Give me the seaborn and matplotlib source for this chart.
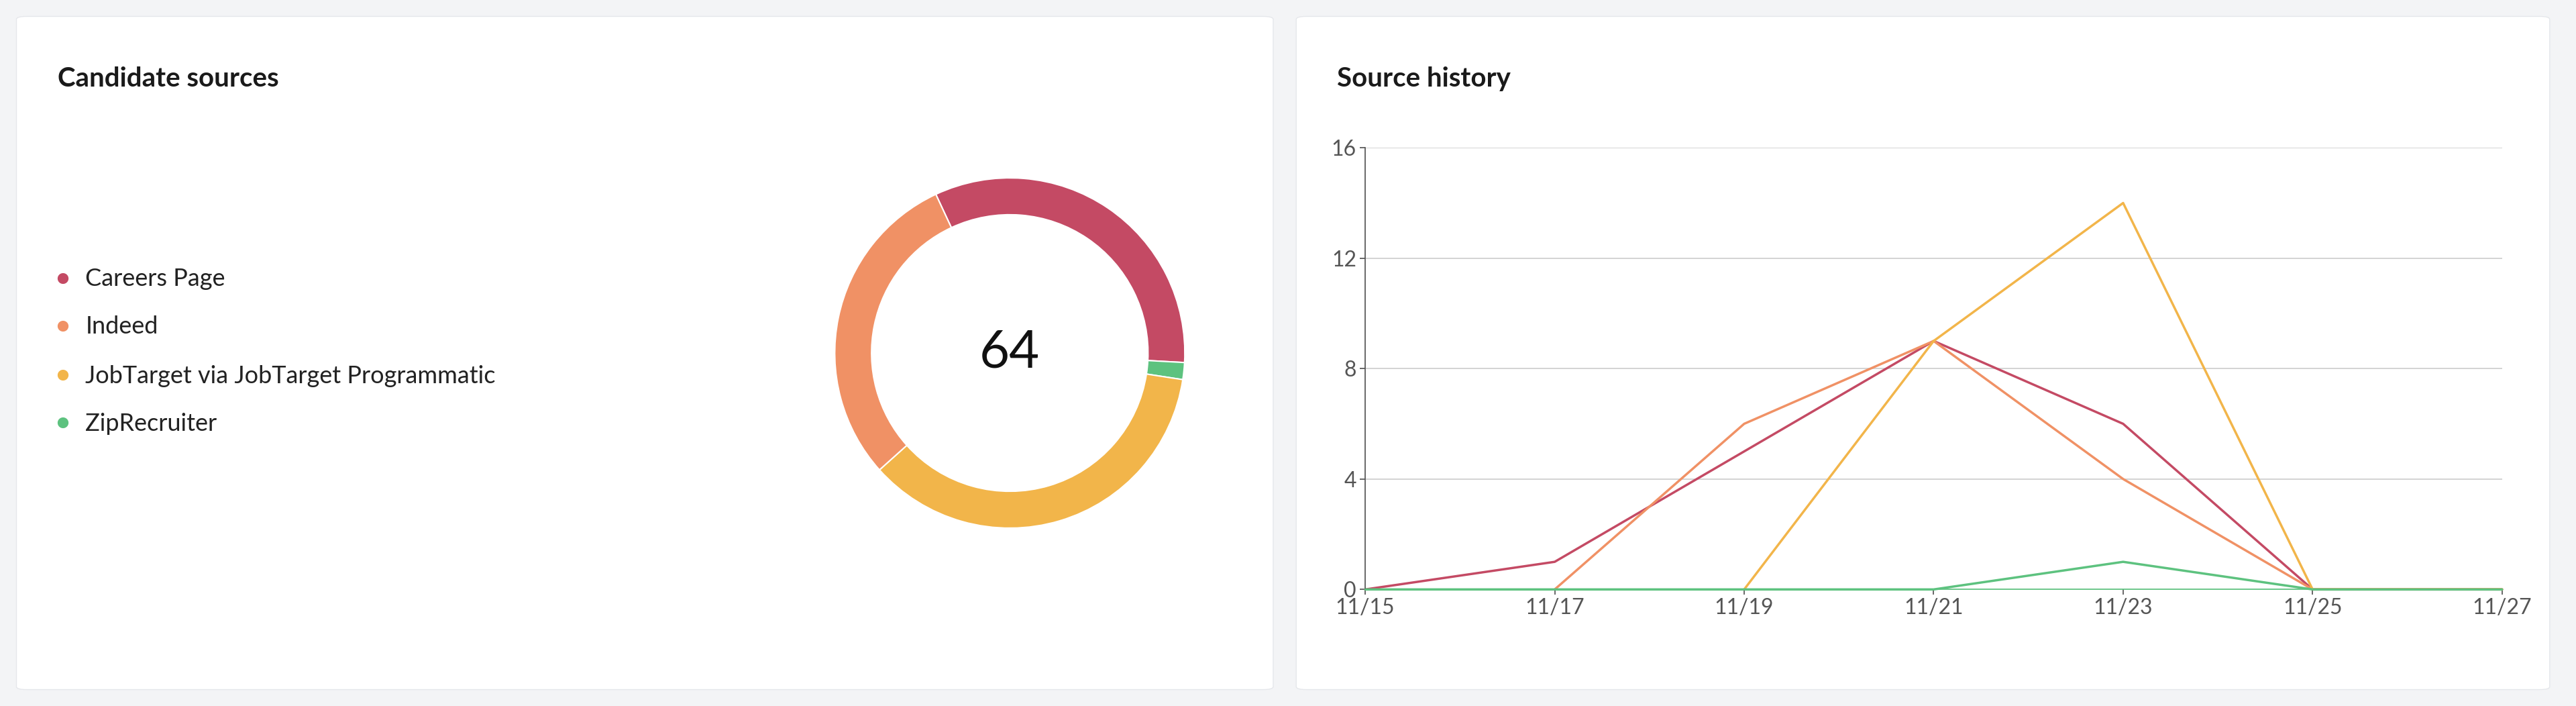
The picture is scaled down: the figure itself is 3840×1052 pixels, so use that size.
import pandas as pd
import numpy as np
import matplotlib.pyplot as plt
import seaborn as sns
from matplotlib.patches import FancyBboxPatch

sources = ["Careers Page", "Indeed", "JobTarget via JobTarget Programmatic", "ZipRecruiter"]
colors = ["#c44a64", "#f09165", "#f2b54a", "#5dc27f"]
dates = ["11/15", "11/17", "11/19", "11/21", "11/23", "11/25", "11/27"]
careers = [0, 1, 5, 9, 6, 0, 0]
indeed = [None, 0, 6, 9, 4, 0, 0]
jobtarget = [None, None, 0, 9, 14, 0, 0]
zip_rec = [0, 0, 0, 0, 1, 0, 0]
# donut order, clockwise from the top-left
pie_sources = ["Careers Page", "ZipRecruiter", "JobTarget via JobTarget Programmatic", "Indeed"]
pie_totals = [21, 1, 23, 19]

sns.set_theme(style="white")
plt.rcParams['font.family'] = ['Lato', 'DejaVu Sans']

fig = plt.figure(figsize=(38.4, 10.52), dpi=100)
fig.patch.set_facecolor("#f3f4f6")

# white cards
for x0, x1 in [(10, 775), (789, 1552)]:
    fig.patches.append(FancyBboxPatch((x0 / 1568, 10 / 430), (x1 - x0) / 1568, 410 / 430,
                                      boxstyle="round,pad=0,rounding_size=0.004",
                                      transform=fig.transFigure, facecolor="white",
                                      edgecolor="#e5e7eb", linewidth=1, zorder=-5))

fig.text(35 / 1568, 1 - 48 / 430, "Candidate sources", fontsize=29, fontweight="bold",
         color="#1a1a1a", va="center")
fig.text(814 / 1568, 1 - 48 / 430, "Source history", fontsize=29, fontweight="bold",
         color="#1a1a1a", va="center")

# legend
for i, (s, c) in enumerate(zip(sources, colors)):
    y = 1 - [170, 199, 229, 258][i] / 430
    fig.text(38 / 1568, y, "\u25CF", color=c, fontsize=24, va="center", ha="center")
    fig.text(52 / 1568, y, s, fontsize=26, color="#222222", va="center")

# donut
h = 0.62
w = h * 10.52 / 38.4
ax1 = fig.add_axes([0.392 - w / 2, 0.5 - h / 2, w, h])
ax1.patch.set_alpha(0)
pie_colors = [colors[sources.index(s)] for s in pie_sources]
ax1.pie(pie_totals, colors=pie_colors, startangle=115, counterclock=False,
        wedgeprops=dict(width=0.21, edgecolor="white", linewidth=1.5))
ax1.set_aspect("equal")
ax1.text(0, 0, "64", fontsize=56, ha="center", va="center", color="#111111")

# line chart
rows = []
for s, vals in zip(sources, [careers, indeed, jobtarget, zip_rec]):
    for i, v in enumerate(vals):
        if v is not None:
            rows.append({"day": i * 2, "count": v, "source": s})
df = pd.DataFrame(rows)

ax2 = fig.add_axes([831 / 1568, 1 - 359 / 430, (1523 - 831) / 1568, (359 - 90) / 430])
ax2.patch.set_alpha(0)
sns.lineplot(data=df, x="day", y="count", hue="source", palette=colors,
             linewidth=2.5, legend=False, ax=ax2, clip_on=False)
ax2.set_xlim(0, 12)
ax2.set_ylim(0, 16)
ax2.set_xticks(range(0, 13, 2))
ax2.set_xticklabels(dates)
ax2.set_yticks([0, 4, 8, 12, 16])
ax2.yaxis.grid(True, color="#cccccc", linewidth=1.2)
ax2.set_axisbelow(True)
ax2.set_xlabel("")
ax2.set_ylabel("")
for sp in ["top", "right"]:
    ax2.spines[sp].set_visible(False)
ax2.spines["left"].set_color("#555555")
ax2.spines["bottom"].set_color(colors[3])
ax2.tick_params(axis="both", labelsize=23, colors="#555555", length=6, left=True, bottom=True)

fig.savefig("out.png", dpi=100, facecolor=fig.get_facecolor())
